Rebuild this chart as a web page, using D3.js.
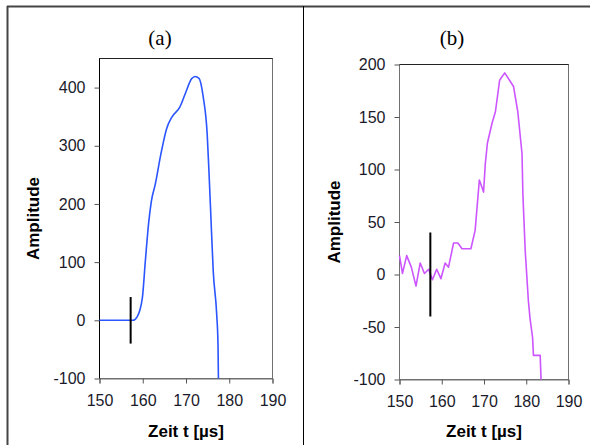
<!DOCTYPE html>
<html><head><meta charset="utf-8">
<script src="https://cdn.jsdelivr.net/npm/d3@7"></script>
<style>body{margin:0;background:#fff}svg{display:block}</style>
</head><body><svg id="c" width="590" height="445"></svg>
<script>
// Panel (a) data
const timeA = [150,157.7,158.7,159.9,160.6,161.4,162,162.9,164.2,165.5,166.7,168.6,169.8,171.3,172.1,173,174,174.9,175.3,175.7,176.3,177.1,177.4,177.5];
const ampA  = [0,0,6,38,102,170,205,234,286,329,349,367,389,415,419,416,383,320,257,188,84,10,-41,-100];
const markerA = {t:157.2, lo:-40, hi:40};
// Panel (b) data
const timeB = [150,150.7,151.7,152.8,153.9,154.9,155.9,156.9,157.8,158.8,159.8,160.8,161.6,162.8,163.8,164.8,166.9,167.9,168.9,169.9,170.3,170.8,171.9,172.7,173.7,174.9,177,178,179,179.2,179.75,180.5,180.9,181.5,181.7,183.3,183.5];
const ampB  = [18,1,18,7,-11,11,1,5,-5,5,-4,11,7,30,30,24.5,24.5,42,90,78.5,105,125,144,155,185,192,179,155,115,77,23,-25,-42,-60,-77,-77,-100];
const markerB = {t:157.3, lo:-40, hi:40};
const xTicks = [150,160,170,180,190];
const yTicksA = [-100,0,100,200,300,400];
const yTicksB = [-100,-50,0,50,100,150,200];

const svg = d3.select("#c");
const SANS = "Liberation Sans, Arial, sans-serif";
const fmt = d => String(d);
svg.append("line").attr("x1",7).attr("x2",590).attr("y1",6.5).attr("y2",6.5).attr("stroke","#444").attr("stroke-width",2);
svg.append("line").attr("x1",7.5).attr("x2",7.5).attr("y1",6).attr("y2",445).attr("stroke","#444").attr("stroke-width",2);
svg.append("line").attr("x1",303.5).attr("x2",303.5).attr("y1",6).attr("y2",445).attr("stroke","#000").attr("stroke-width",1);

function panel(o){
  const x = d3.scaleLinear().domain([150,190]).range([o.left,o.right]);
  const y = d3.scaleLinear().domain(o.ydom).range([o.bottom,o.top]);
  const g = svg.append("g");
  g.append("rect").attr("x",o.left).attr("y",o.top).attr("width",o.right-o.left).attr("height",o.bottom-o.top)
    .attr("fill","none").attr("stroke","#707070").attr("stroke-width",1);
  g.append("line").attr("x1",o.left).attr("x2",o.right).attr("y1",o.top).attr("y2",o.top).attr("stroke","#222");
  g.append("line").attr("x1",o.left).attr("x2",o.left).attr("y1",o.top).attr("y2",o.bottom).attr("stroke",o.leftColor);
  const ya = g.append("g").attr("transform",`translate(${o.left},0)`)
    .call(d3.axisLeft(y).tickValues(o.yticks).tickSize(5).tickPadding(9).tickFormat(fmt));
  ya.select(".domain").remove();
  ya.selectAll("line").attr("stroke","#555");
  ya.selectAll("text").attr("font-family",SANS).attr("font-size",16).attr("fill","#1a1a2a");
  const xa = g.append("g").attr("transform",`translate(0,${o.bottom})`)
    .call(d3.axisBottom(x).tickValues(xTicks).tickSize(5).tickPadding(11).tickFormat(fmt));
  xa.select(".domain").attr("stroke","#707070");
  xa.selectAll("line").attr("stroke","#555");
  xa.selectAll("text").attr("font-family",SANS).attr("font-size",16).attr("fill","#1a1a2a");
  const pts = o.t.map((t,i)=>[t,o.v[i]]);
  g.append("path").datum(pts).attr("fill","none").attr("stroke",o.color).attr("stroke-width",1.6)
    .attr("stroke-linejoin","round")
    .attr("d",d3.line().curve(o.curve).x(d=>x(d[0])).y(d=>y(d[1])));
  g.append("line").attr("x1",x(o.marker.t)).attr("x2",x(o.marker.t)).attr("y1",y(o.marker.lo)).attr("y2",y(o.marker.hi))
    .attr("stroke","#000").attr("stroke-width",2);
  g.append("text").attr("x",o.titleX).attr("y",45).attr("text-anchor","middle")
    .attr("font-family","Liberation Serif, DejaVu Serif, serif").attr("font-size",21).text(o.title);
  g.append("text").attr("transform",`translate(${o.ylabX},${(o.top+o.bottom)/2}) rotate(-90)`).attr("text-anchor","middle")
    .attr("font-family",SANS).attr("font-weight","bold").attr("font-size",17).text("Amplitude");
  g.append("text").attr("x",(o.left+o.right)/2).attr("y",437).attr("text-anchor","middle")
    .attr("font-family",SANS).attr("font-weight","bold").attr("font-size",17).text("Zeit t [µs]");
}

panel({left:99.5,right:272.5,top:58.5,bottom:378.5,ydom:[-100,450],yticks:yTicksA,t:timeA,v:ampA,
  marker:markerA,color:"#2a55ff",leftColor:"#000",title:"(a)",titleX:160,ylabX:39,curve:d3.curveMonotoneX});
panel({left:399.5,right:568.5,top:64.5,bottom:379.5,ydom:[-100,200],yticks:yTicksB,t:timeB,v:ampB,
  marker:markerB,color:"#cc55ff",leftColor:"#707070",title:"(b)",titleX:452,ylabX:340,curve:d3.curveLinear});
</script></body></html>
